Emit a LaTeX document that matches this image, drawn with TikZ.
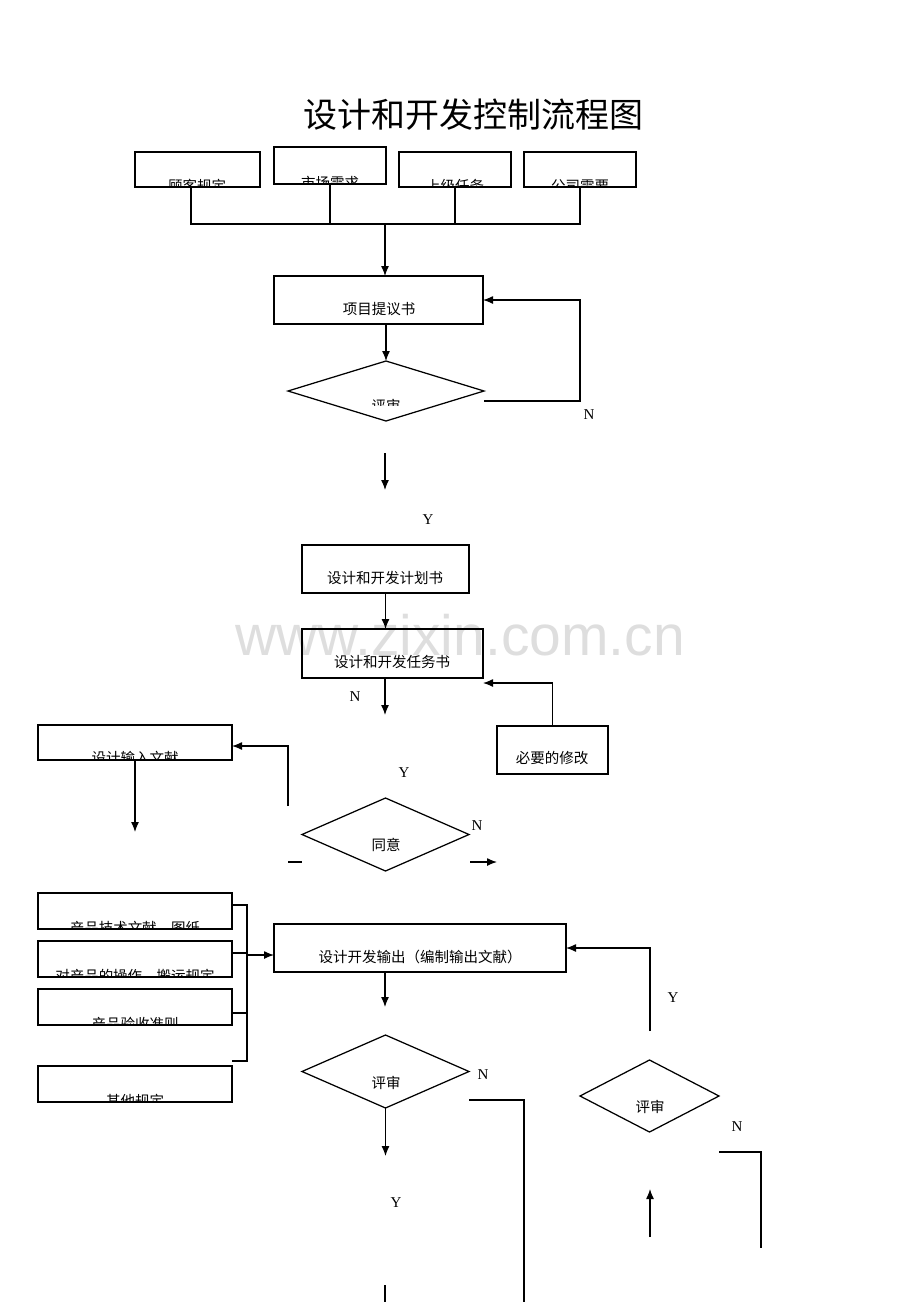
\documentclass[tikz,border=0pt]{standalone}
\usepackage{fontspec}
\setmainfont{Liberation Serif}
\newfontfamily\cjk{Noto Sans CJK SC}
\newfontfamily\wmfont{Liberation Sans}
\usetikzlibrary{arrows.meta,shapes.geometric}
\tikzset{
  box/.style={draw,rectangle,inner sep=0pt,outer sep=0pt},
  dia/.style={draw,diamond,inner sep=0pt,outer sep=0pt},
  txt/.style={font=\cjk\fontsize{14.5}{15}\selectfont,inner sep=0pt},
  lab/.style={font=\fontsize{15}{15}\selectfont,inner sep=0pt},
  arr/.style={-{Latex[length=10pt,width=8pt]}},
}
\begin{document}
\begin{tikzpicture}[x=1pt,y=-1pt,line width=1.25pt]
\useasboundingbox (0,0) rectangle (920,1302);
% watermark
\node[font=\wmfont\fontsize{57}{57}\selectfont,text=black!13,inner sep=0pt] (wm) at (460,635) {www.zixin.com.cn};
% title
\node[font=\cjk\fontsize{34}{34}\selectfont,inner sep=0pt] (title) at (473,115) {设计和开发控制流程图};

% top boxes with clipped text
\node[box,minimum width=125pt,minimum height=35pt] (b1) at (197.5,169.5) {};
\node[box,minimum width=112pt,minimum height=37pt] (b2) at (330,165.5) {};
\node[box,minimum width=112pt,minimum height=35pt] (b3) at (455,169.5) {};
\node[box,minimum width=112pt,minimum height=35pt] (b4) at (580,169.5) {};
\begin{scope}
\clip (135,152) rectangle (636,186.5);
\node[txt] (t1) at (197,186) {顾客规定};
\node[txt] (t3) at (455,186) {上级任务};
\node[txt] (t4) at (580,186) {公司需要};
\end{scope}
\begin{scope}
\clip (274,147) rectangle (386,183.5);
\node[txt] (t2) at (330,182.5) {市场需求};
\end{scope}
\coordinate (busL) at (191,224);
\coordinate (busR) at (580,224);
\coordinate (busM) at (385,224);
\draw (b1.south -| busL) -- (busL) -- (busR) -- (b4.south);
\draw (b2.south) -- (b2.south |- busL);
\draw (b3.south) -- (b3.south |- busL);

% project proposal
\node[box,minimum width=209pt,minimum height=48pt] (p1) at (378.5,300) {};
\node[txt] (tp1) at (379,309) {项目提议书};
\draw[arr] (busM) -- (busM |- p1.north);

% review diamond 1
\node[dia,minimum width=196pt,minimum height=60pt] (d1) at (386,391) {};
\begin{scope}
\clip (300,380) rectangle (470,405);
\node[txt] (td1) at (386,406) {评审};
\end{scope}
\draw[arr] (p1.south -| d1.north) -- (d1.north);
\coordinate (n1a) at (484,401);
\coordinate (n1b) at (580,401);
\draw[arr] (n1a) -- (n1b) |- (p1.east);
\node[lab] (N1) at (589,415) {N};
\coordinate (a1s) at (385,453);
\coordinate (a1e) at (385,490);
\draw[arr] (a1s) -- (a1e);
\node[lab] (Y1) at (428,520) {Y};

% plan and task
\node[box,minimum width=167pt,minimum height=48pt] (p2) at (385.5,569) {};
\node[txt] (tp2) at (385,578) {设计和开发计划书};
\node[box,minimum width=181pt,minimum height=49pt] (p3) at (392.5,653.5) {};
\node[txt] (tp3) at (392,662) {设计和开发任务书};
\draw[arr] (p2.south) -- (p2.south |- p3.north);
\node[lab] (N2) at (355,697) {N};
\coordinate (a2s) at (385,678);
\draw[arr] (a2s) -- ++(0,37);

% necessary modification
\node[box,minimum width=111pt,minimum height=48pt] (fix) at (552.5,750) {};
\node[txt] (tfix) at (552,758) {必要的修改};
\coordinate (p3in) at (483,683);
\draw[arr] (fix.north) |- (p3in);
\node[lab] (Y2) at (404,773) {Y};

% design input
\node[box,minimum width=194pt,minimum height=35pt] (inp) at (135,742.5) {};
\begin{scope}
\clip (38,725) rectangle (232,759.5);
\node[txt] (tinp) at (135,758) {设计输入文献};
\end{scope}
\draw[arr] (inp.south) -- ++(0,72);
\coordinate (inpin) at (232,746);
\coordinate (ret) at (288,806);
\draw[arr] (ret) |- (inpin);

% agree diamond
\node[dia,minimum width=167pt,minimum height=73pt] (d2) at (385.5,834.5) {};
\node[txt] (td2) at (386,845) {同意};
\node[lab] (N3) at (477,826) {N};
\coordinate (da) at (288,862);
\coordinate (db) at (302,862);
\draw (da) -- (db);
\coordinate (dc) at (470,862);
\coordinate (dd) at (497,862);
\draw[arr] (dc) -- (dd);

% left boxes
\node[box,minimum width=194pt,minimum height=36pt] (l1) at (135,911) {};
\node[box,minimum width=194pt,minimum height=36pt] (l2) at (135,959) {};
\node[box,minimum width=194pt,minimum height=36pt] (l3) at (135,1007) {};
\node[box,minimum width=194pt,minimum height=36pt] (l4) at (135,1084) {};
\begin{scope}
\clip (38,893) rectangle (232,928.5) (38,941) rectangle (232,976.5)
      (38,989) rectangle (232,1024.5) (38,1066) rectangle (232,1101.5);
\node[txt] (tl1) at (135,928) {产品技术文献、图纸};
\node[txt] (tl2) at (135,976) {对产品的操作、搬运规定};
\node[txt] (tl3) at (135,1024) {产品验收准则};
\node[txt] (tl4) at (135,1101) {其他规定};
\end{scope}
\coordinate (brT) at (247,905);
\coordinate (brB) at (247,1061);
\draw (l1.east |- brT) -- (brT) -- (brB) -- (l4.east |- brB);
\draw (l2.east |- 0,953) -- (247,953);
\draw (l3.east |- 0,1013) -- (247,1013);

% design output
\node[box,minimum width=292pt,minimum height=48pt] (out) at (420,948) {};
\node[txt] (tout) at (420,957) {设计开发输出（编制输出文献）};
\coordinate (brM) at (247,955);
\draw[arr] (brM) -- (out.west |- brM);
\coordinate (a3s) at (385,972);
\draw[arr] (a3s) -- ++(0,35);

% review diamond 3
\node[dia,minimum width=167pt,minimum height=73pt] (d3) at (385.5,1071.5) {};
\node[txt] (td3) at (386,1083) {评审};
\node[lab] (N4) at (483,1075) {N};
\coordinate (e1) at (469,1100);
\coordinate (e2) at (524,1100);
\coordinate (e3) at (524,1302);
\draw (e1) -- (e2) -- (e3);
\draw[arr] (d3.south) -- ++(0,48);
\node[lab] (Y3) at (396,1203) {Y};
\coordinate (f1) at (385,1285);
\coordinate (f2) at (385,1302);
\draw (f1) -- (f2);

% review diamond 4
\node[dia,minimum width=139pt,minimum height=72pt] (d4) at (649.5,1096) {};
\node[txt] (td4) at (650,1107) {评审};
\node[lab] (N5) at (737,1127) {N};
\coordinate (g1) at (719,1152);
\coordinate (g2) at (761,1152);
\coordinate (g3) at (761,1248);
\draw (g1) -- (g2) -- (g3);
\coordinate (h1) at (650,1237);
\coordinate (h2) at (650,1189);
\draw[arr] (h1) -- (h2);
\node[lab] (Y4) at (673,998) {Y};
\coordinate (k1) at (650,1031);
\draw[arr] (k1) |- (out.east);
\end{tikzpicture}
\end{document}
